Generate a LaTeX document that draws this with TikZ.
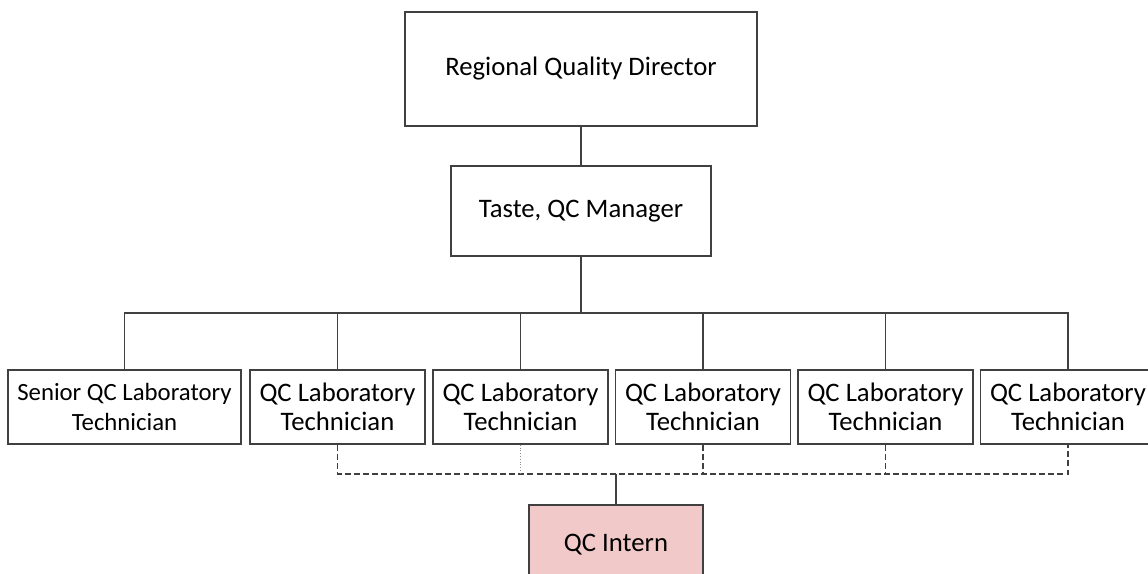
\documentclass[tikz,border=0pt]{standalone}
\usepackage{fontspec}
\setmainfont{Carlito}
\usetikzlibrary{positioning}
\definecolor{internpink}{RGB}{242,201,201}

\begin{document}
\begin{tikzpicture}[x=0.02cm,y=-0.02cm,line width=0.8pt,draw=black!75]
\useasboundingbox (0,0) rectangle (1148,574);
\clip (0,0) rectangle (1148,574);

    \tikzstyle{role}=[draw=black!75, fill=white, align=center, inner sep=0pt, font=\fontsize{15.2}{16.8}\selectfont];
    \tikzstyle{tech}=[role, minimum width=3.5cm, minimum height=1.48cm];
    \tikzstyle{link}=[dash pattern=on 3.4pt off 1.8pt];

% top
\node[role, minimum width=7.04cm, minimum height=2.28cm] (dir) at (581,69) {Regional Quality Director};
\node[role, minimum width=5.2cm, minimum height=1.8cm] (mgr) at (581,211) {Taste, QC Manager};

% technicians
\node[tech, minimum width=4.66cm, font=\fontsize{14.1}{16.8}\selectfont] (t1) at (124.5,407) {Senior QC Laboratory\\ Technician};
\node[tech] (t2) at (337.5,407) {QC Laboratory\\ Technician};
\node[tech] (t3) at (520.5,407) {QC Laboratory\\ Technician};
\node[tech] (t4) at (703,407) {QC Laboratory\\ Technician};
\node[tech] (t5) at (885.5,407) {QC Laboratory\\ Technician};
\node[tech] (t6) at (1068,407) {QC Laboratory\\ Technician};

\node[role, fill=internpink, minimum width=3.48cm, minimum height=1.6cm] (intern) at (616,545) {QC Intern};

\coordinate (bus) at (581,313);
\coordinate (dash) at (616,474);

\draw (dir) -- (mgr);
\draw (mgr) -- (bus);
\draw (t1.north) -- (t1.north |- bus) -- (t6.north |- bus) -- (t6.north);
\foreach \i in {2,...,5}
  \draw (t\i.north) -- (t\i.north |- bus);

% intern links
\draw[link] (t2.south) -- (t2.south |- dash) -- (t6.south |- dash) -- (t6.south);
\draw[densely dotted, draw=black!45, line width=0.6pt] (t3.south) -- (t3.south |- dash);
\foreach \i in {4,5}
  \draw[link] (t\i.south) -- (t\i.south |- dash);
\draw (dash) -- (intern);
\end{tikzpicture}
\end{document}
